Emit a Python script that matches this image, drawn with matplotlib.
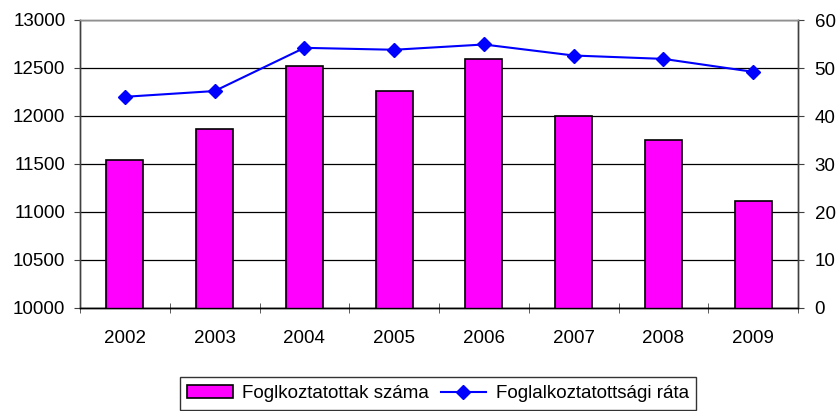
import numpy as np
import matplotlib.pyplot as plt
from matplotlib.ticker import FixedLocator

plt.rcParams['font.family'] = ['Liberation Sans', 'DejaVu Sans']

# adatok
years = ['2002', '2003', '2004', '2005', '2006', '2007', '2008', '2009']
employed = [11545, 11865, 12520, 12260, 12595, 11997, 11752, 11115]
rate = [44.0, 45.2, 54.2, 53.8, 54.9, 52.6, 51.9, 49.2]

fig = plt.figure(figsize=(8.36, 4.11), dpi=100)
ax = fig.add_axes([80 / 836, 103 / 411, 718 / 836, 288 / 411])
ax2 = ax.twinx()

x = np.arange(len(years))

# oszlopok
bars = ax.bar(x, employed, width=0.41, color='#FF00FF', edgecolor='black',
              linewidth=1.2, zorder=3, label='Foglkoztatottak száma')
ax.set_ylim(10000, 13000)
ax.set_yticks(np.arange(10000, 13001, 500))
ax.set_xlim(-0.5, len(years) - 0.5)
ax.set_xticks(x)
ax.set_xticklabels(years)
ax.xaxis.set_minor_locator(FixedLocator(np.arange(-0.5, len(years), 1)))
ax.tick_params(axis='x', which='major', length=0, pad=16, labelsize=13.5)
ax.tick_params(axis='x', which='minor', length=7, direction='inout', color='#404040')
ax.tick_params(axis='y', length=4, direction='out', color='#404040', labelsize=13.5, pad=6.5)
ax.yaxis.grid(True, color='black', linewidth=0.9, zorder=0)
ax.set_axisbelow(True)

# vonal
line, = ax2.plot(x, rate, color='#0000FF', linewidth=1.5, marker='D',
                 markersize=7, zorder=4, label='Foglalkoztatottsági ráta')
ax2.set_ylim(0, 60)
ax2.set_yticks(np.arange(0, 61, 10))
ax2.tick_params(axis='y', length=4, direction='out', color='#404040', labelsize=13.5, pad=8)

for a in (ax, ax2):
    a.spines['top'].set_color('#909090')
    a.spines['left'].set_color('#404040')
    a.spines['right'].set_color('#404040')
    a.spines['bottom'].set_color('black')
    for s in a.spines.values():
        s.set_linewidth(1.0)

ax.set_zorder(ax2.get_zorder() - 1)
ax2.patch.set_visible(False)

leg = fig.legend([bars, line], [bars.get_label(), line.get_label()],
                 loc='center', bbox_to_anchor=(438 / 836, 1 - 393.5 / 411),
                 ncol=2, fontsize=13.5, frameon=True, fancybox=False,
                 edgecolor='black', handlelength=2.45, handletextpad=0.5,
                 columnspacing=0.6, borderpad=0.4)
leg.get_frame().set_linewidth(1.0)

fig.savefig('out.png', dpi=100)
